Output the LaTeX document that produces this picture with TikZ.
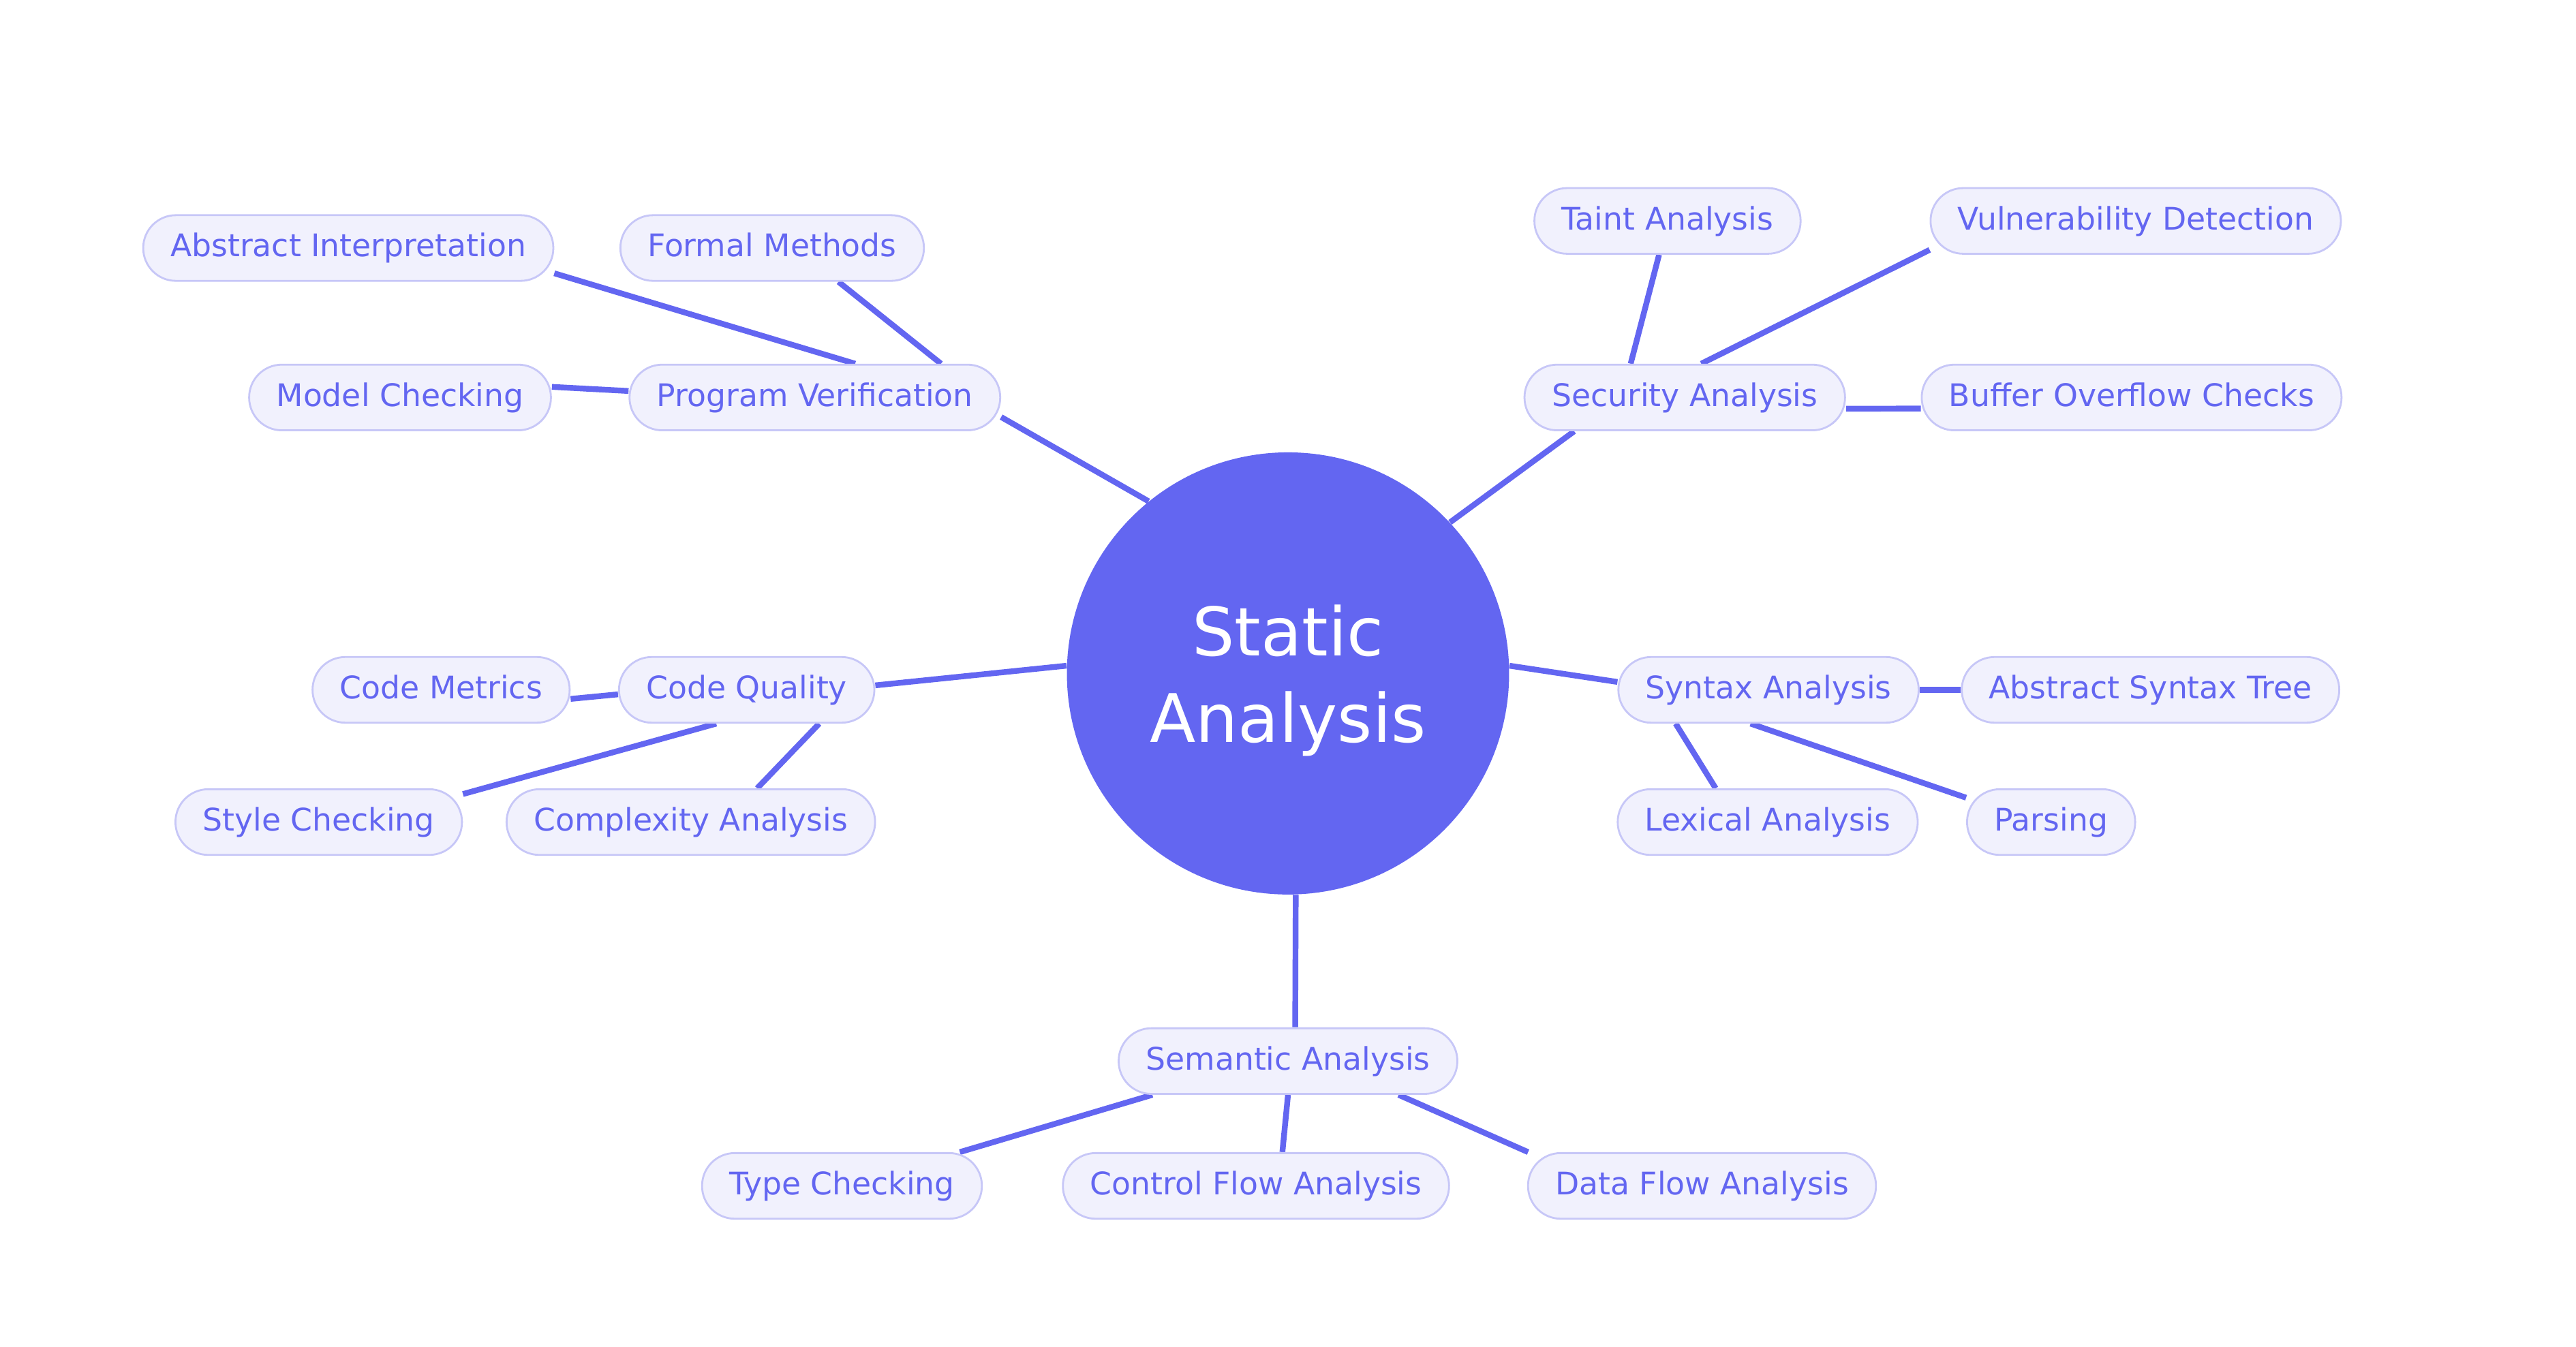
\documentclass[tikz,border=0pt]{standalone}
\usepackage{fontspec}
\setmainfont{DejaVu Sans}
\usetikzlibrary{backgrounds}
\definecolor{indigo}{HTML}{6366F1}
\definecolor{leaffill}{HTML}{F1F1FD}
\definecolor{leafline}{HTML}{C7C7F7}
\tikzset{
  topic/.style={circle,fill=indigo,text=white,minimum size=64.9mm,align=center,
    font=\fontsize{28}{36}\selectfont},
  leaf/.style={draw=leafline,line width=0.8pt,fill=leaffill,text=indigo,
    rounded corners=4.8mm,minimum height=9.64mm,inner xsep=4mm,
    text height=0.73em,text depth=0pt,
    font=\fontsize{13}{16}\selectfont},
  link/.style={indigo,line width=2.4pt}
}

\begin{document}
\begin{tikzpicture}[x=0.2411mm,y=-0.2411mm]
  \useasboundingbox (0,0) rectangle (1568,820);
  \node[topic] (root) at (784,410) {\rule{0pt}{0.97em}Static\\Analysis};

  \node[leaf] (ai) at (212,151) {Abstract Interpretation};
  \node[leaf] (fm) at (470,151) {Formal Methods};
  \node[leaf] (mc) at (243.5,242) {Model Checking};
  \node[leaf] (pv) at (496,242) {Program Verification};

  \node[leaf] (ta) at (1015,134.5) {Taint Analysis};
  \node[leaf] (vd) at (1300,134.5) {Vulnerability Detection};
  \node[leaf] (sa) at (1025.5,242) {Security Analysis};
  \node[leaf] (boc) at (1297.5,242) {Buffer Overflow Checks};

  \node[leaf] (cm) at (268.5,420) {Code Metrics};
  \node[leaf] (cq) at (454.5,420) {Code Quality};
  \node[leaf] (sc) at (194,500.5) {Style Checking};
  \node[leaf] (ca) at (420.5,500.5) {Complexity Analysis};

  \node[leaf] (sya) at (1076.5,420) {Syntax Analysis};
  \node[leaf] (ast) at (1309,420) {Abstract Syntax Tree};
  \node[leaf] (la) at (1076,500.5) {Lexical Analysis};
  \node[leaf] (ps) at (1248.5,500.5) {Parsing};

  \node[leaf] (sema) at (784,646) {Semantic Analysis};
  \node[leaf] (tc) at (512.5,722) {Type Checking};
  \node[leaf] (cfa) at (764.5,722) {Control Flow Analysis};
  \node[leaf] (dfa) at (1036,722) {Data Flow Analysis};

  \begin{scope}[on background layer]
    \draw[link] (ai.-7.2) -- (pv.40);
    \draw[link] (fm.-27) -- (pv.15.5);
    \draw[link] (mc.4.3) -- (pv.178);
    \draw[link] (pv.-6) -- (root.129);

    \draw[link] (ta.256.3) -- (sa.148.4);
    \draw[link] (vd.188.9) -- (sa.64.6);
    \draw[link] (sa.-4.1) -- (boc.183.6);
    \draw[link] (sa.197.7) -- (root.43.8);

    \draw[link] (cm.-4.4) -- (cq.182.9);
    \draw[link] (cq.2.9) -- (root.178.7);
    \draw[link] (sc.11.9) -- (cq.228.8);
    \draw[link] (ca.27.5) -- (cq.-25.2);

    \draw[link] (root.2.5) -- (sya.177.5);
    \draw[link] (sya.0) -- (ast.180);
    \draw[link] (la.147) -- (sya.200.2);
    \draw[link] (ps.164.4) -- (sya.242.3);

    \draw[link] (root.-88.3) -- (sema.78.7);
    \draw[link] (tc.16.5) -- (sema.194.4);
    \draw[link] (cfa.52.2) -- (sema.-90);
    \draw[link] (dfa.169.2) -- (sema.-17.4);
  \end{scope}
\end{tikzpicture}
\end{document}
